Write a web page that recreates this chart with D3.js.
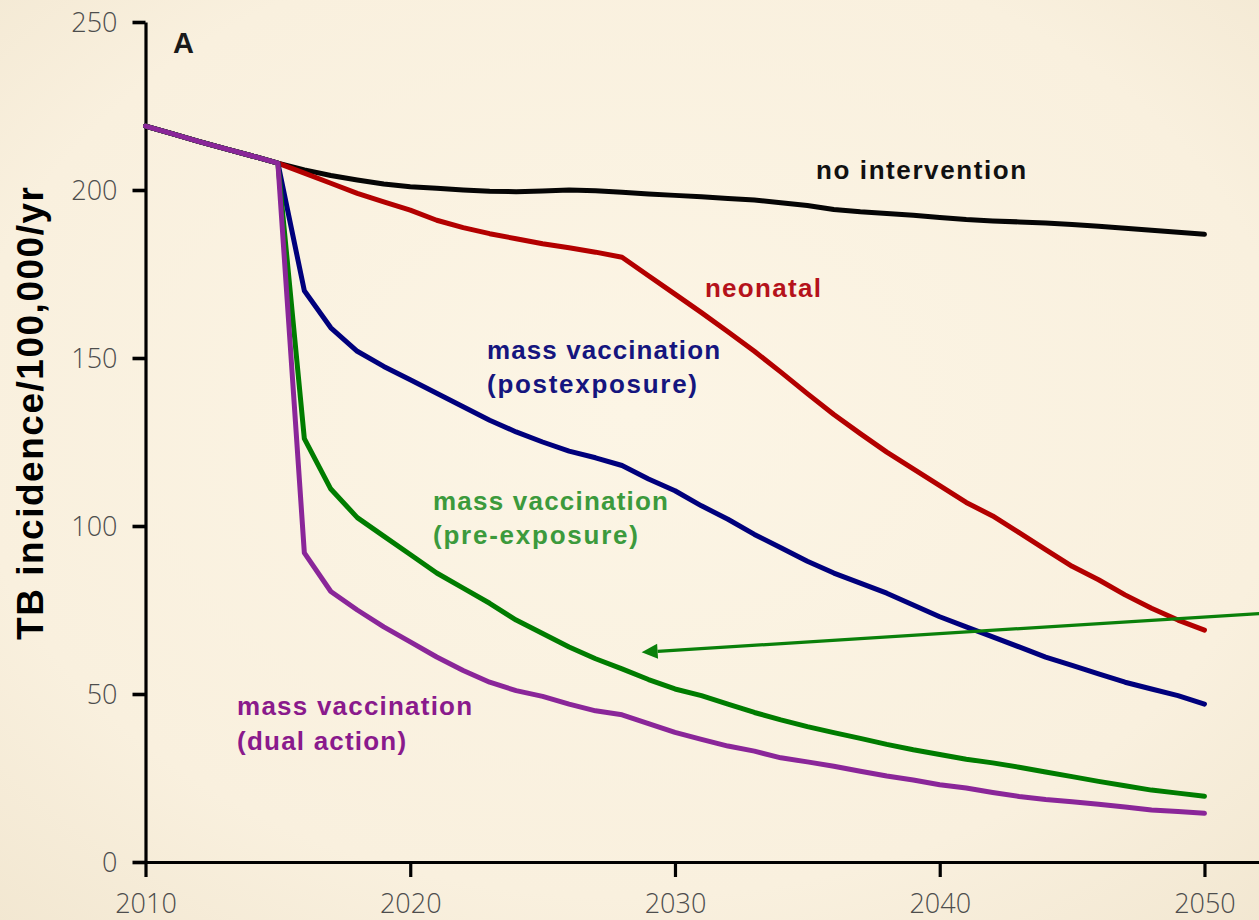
<!DOCTYPE html>
<html>
<head>
<meta charset="utf-8">
<script src="https://cdn.jsdelivr.net/npm/d3@7"></script>
<style>
  html, body { margin: 0; padding: 0; overflow: hidden; background: #f8efdc; }
  svg { display: block; }
</style>
</head>
<body>
<svg id="chart" width="1259" height="920"></svg>
<script>
// ---- data -------------------------------------------------------------
// common history before vaccine introduction
const historyYears  = [2010, 2011, 2012, 2013, 2014, 2015];
const historyValues = [219, 216.8, 214.5, 212.3, 210.2, 208];

// scenario projections, one value per year 2015..2050
const years = d3.range(2015, 2051);

const noIntervention = [208, 206, 204.3, 203, 201.8, 201, 200.5, 200, 199.6, 199.5,
  199.7, 200, 199.8, 199.3, 198.8, 198.4, 198, 197.5, 197, 196.2,
  195.4, 194.2, 193.5, 193, 192.5, 191.8, 191.2, 190.8, 190.5, 190.2,
  189.7, 189.2, 188.6, 188, 187.4, 186.8];

const neonatal = [208, 205, 202, 199, 196.5, 194, 191, 188.8, 187, 185.5,
  184, 182.8, 181.5, 180, 174.5, 169, 163.5, 157.8, 152, 145.8,
  139.4, 133.2, 127.5, 122, 117, 112, 107, 103, 98, 93,
  88, 84, 79.5, 75.5, 72, 69];

const postExposure = [208, 170, 159, 152, 147.5, 143.5, 139.5, 135.5, 131.5, 128,
  125, 122.3, 120.3, 118, 114, 110.5, 106, 102, 97.5, 93.5,
  89.5, 86, 83, 80, 76.5, 73, 70, 67, 64, 61,
  58.5, 56, 53.5, 51.5, 49.5, 47];

const preExposure = [208, 126, 111, 102.5, 97, 91.5, 86, 81.5, 77, 72,
  68, 64, 60.5, 57.5, 54.3, 51.5, 49.5, 47, 44.5, 42.3,
  40.3, 38.5, 36.8, 35, 33.4, 32, 30.6, 29.5, 28.2, 26.8,
  25.4, 24, 22.7, 21.4, 20.5, 19.6];

const dualAction = [208, 92, 80.5, 75, 70, 65.5, 61, 57, 53.5, 51,
  49.3, 47, 45, 43.8, 41.2, 38.6, 36.5, 34.5, 33, 31,
  29.8, 28.5, 27, 25.6, 24.4, 23, 22, 20.7, 19.5, 18.6,
  17.9, 17.2, 16.4, 15.5, 15, 14.5];

const xTicks = [2010, 2020, 2030, 2040, 2050];
const yTicks = [0, 50, 100, 150, 200, 250];

// ---- series styling and label placement -------------------------------
const series = [
  { values: noIntervention, color: "#050505", textColor: "#111111",
    lines: ["no intervention"], at: [2035.33, 203.3], widths: [210] },
  { values: neonatal, color: "#b30000", textColor: "#b5121b",
    lines: ["neonatal"], at: [2031.13, 168.2], widths: [116] },
  { values: postExposure, color: "#00007c", textColor: "#15157e",
    lines: ["mass vaccination", "(postexposure)"], at: [2022.9, 149.85], widths: [233, 210] },
  { values: preExposure, color: "#007c00", textColor: "#3c9a3c",
    lines: ["mass vaccination", "(pre-exposure)"], at: [2020.86, 104.8], widths: [235, 205] },
  { values: dualAction, color: "#8a2699", textColor: "#8a1a8c",
    lines: ["mass vaccination", "(dual action)"], at: [2013.46, 43.75], widths: [235, 169] }
];

// annotation arrow pointing at the pre-exposure curve
const arrowFrom = [2052.6, 74.2];
const arrowTo   = [2028.74, 62.4];

// ---- drawing ----------------------------------------------------------
const W = 1259, H = 920;
const svg = d3.select("#chart");

const defs = svg.append("defs");
const bg = defs.append("radialGradient").attr("id", "bg")
  .attr("cx", "50%").attr("cy", "45%").attr("r", "75%");
bg.append("stop").attr("offset", "0%").attr("stop-color", "#fcf5e5");
bg.append("stop").attr("offset", "70%").attr("stop-color", "#f9f0de");
bg.append("stop").attr("offset", "100%").attr("stop-color", "#f2e7d1");
svg.append("rect").attr("width", W).attr("height", H).attr("fill", "url(#bg)");

const x = d3.scaleLinear().domain([2010, 2052.06]).range([145.5, 1259]);
const y = d3.scaleLinear().domain([0, 250]).range([862, 22]);

const tickFont = "'Open Sans', 'Noto Sans', sans-serif";

// y axis
const yAxis = svg.append("g")
  .attr("transform", `translate(${x(2010)},0)`)
  .call(d3.axisLeft(y).tickValues(yTicks).tickSize(13).tickSizeOuter(0).tickPadding(15));
yAxis.select(".domain").attr("stroke", "#000").attr("stroke-width", 3.2);
yAxis.selectAll(".tick line").attr("stroke", "#000").attr("stroke-width", 3.6);
yAxis.selectAll(".tick text")
  .attr("font-family", tickFont).attr("font-weight", 300)
  .attr("font-size", 27).attr("fill", "#4d4d4d").attr("dy", "0.36em");

// x axis
const xAxis = svg.append("g")
  .attr("transform", `translate(0,${y(0)})`)
  .call(d3.axisBottom(x).tickValues(xTicks).tickFormat(d3.format("d"))
    .tickSize(15).tickSizeOuter(0));
xAxis.select(".domain").attr("stroke", "#000").attr("stroke-width", 3.2);
xAxis.selectAll(".tick line").attr("stroke", "#000").attr("stroke-width", 3.2);
xAxis.selectAll(".tick text")
  .attr("font-family", tickFont).attr("font-weight", 300)
  .attr("font-size", 27).attr("fill", "#4d4d4d")
  .attr("y", 51).attr("dy", 0);

// lines: yearly model output joined point to point
const line = d3.line()
  .x(d => x(d[0]))
  .y(d => y(d[1]))
  .curve(d3.curveLinear);

const history = historyYears.map((yr, i) => [yr, historyValues[i]]);

svg.append("g").selectAll("path")
  .data(series)
  .join("path")
  .attr("fill", "none")
  .attr("stroke", d => d.color)
  .attr("stroke-width", 5)
  .attr("stroke-linejoin", "round")
  .attr("stroke-linecap", "round")
  .attr("d", d => line(history.concat(years.map((yr, i) => [yr, d.values[i]]).slice(1))));

// series labels
const labelFont = "'Liberation Sans', Arial, Helvetica, sans-serif";
const labels = svg.append("g");
series.forEach(s => {
  s.lines.forEach((txt, i) => {
    labels.append("text")
      .attr("x", x(s.at[0]))
      .attr("y", y(s.at[1]) + i * 34.5)
      .attr("font-family", labelFont)
      .attr("font-weight", "bold")
      .attr("font-size", 26)
      .attr("fill", s.textColor)
      .attr("textLength", s.widths[i])
      .attr("lengthAdjust", "spacing")
      .text(txt);
  });
});

// arrow
const ax0 = x(arrowFrom[0]), ay0 = y(arrowFrom[1]);
const ax1 = x(arrowTo[0]),   ay1 = y(arrowTo[1]);
const ang = Math.atan2(ay1 - ay0, ax1 - ax0);
const headLen = 16, headHalf = 7.5;
const bx = ax1 - headLen * Math.cos(ang), by = ay1 - headLen * Math.sin(ang);
svg.append("line")
  .attr("x1", ax0).attr("y1", ay0).attr("x2", bx).attr("y2", by)
  .attr("stroke", "#0a800a").attr("stroke-width", 3.2);
svg.append("path")
  .attr("d", `M${ax1},${ay1}` +
    `L${bx + headHalf * Math.sin(ang)},${by - headHalf * Math.cos(ang)}` +
    `L${bx - headHalf * Math.sin(ang)},${by + headHalf * Math.cos(ang)}Z`)
  .attr("fill", "#0a800a");

// panel letter
svg.append("text")
  .attr("x", 173).attr("y", 53)
  .attr("font-family", labelFont).attr("font-weight", "bold")
  .attr("font-size", 29).attr("fill", "#1a1a1a")
  .text("A");

// y axis title
svg.append("text")
  .attr("transform", "translate(43,413.5) rotate(-90)")
  .attr("text-anchor", "middle")
  .attr("font-family", labelFont).attr("font-weight", "bold")
  .attr("font-size", 37).attr("fill", "#000")
  .attr("textLength", 453).attr("lengthAdjust", "spacing")
  .text("TB incidence/100,000/yr");
</script>
</body>
</html>
